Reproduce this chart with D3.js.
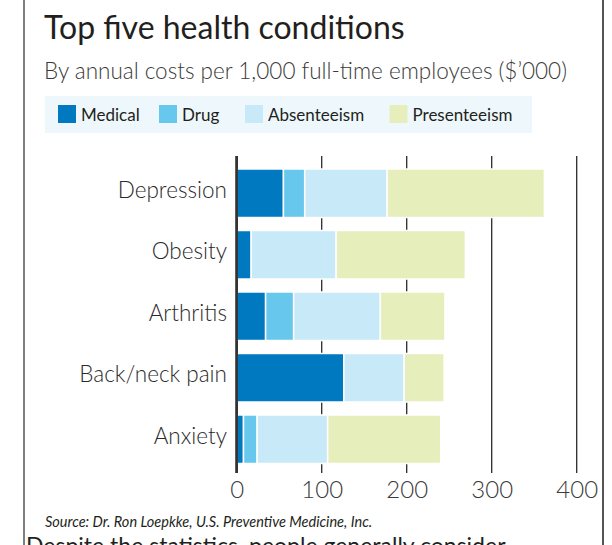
<!DOCTYPE html>
<html>
<head>
<meta charset="utf-8">
<script src="https://cdn.jsdelivr.net/npm/d3@7"></script>
<style>
  html, body { margin: 0; padding: 0; background: #fff; }
  svg { display: block; font-family: Lato, "Open Sans", sans-serif; }
</style>
</head>
<body>
<svg id="chart" width="612" height="545"></svg>
<script>
// ---- data ----
const categories = ["Depression", "Obesity", "Arthritis", "Back/neck pain", "Anxiety"];
const seriesNames = ["Medical", "Drug", "Absenteeism", "Presenteeism"];
const medical      = [55, 17, 34, 126, 8];
const drug         = [25, 0, 33, 0, 16];
const absenteeism  = [97, 100, 102, 71, 83];
const presenteeism = [185, 152, 76, 47, 133];
const tickValues = [0, 100, 200, 300, 400];
const colors = ["#0079c1", "#67c7ec", "#c8e9f8", "#e6efbc"];

const titleText = "Top five health conditions";
const subtitleText = "By annual costs per 1,000 full-time employees ($\u2019000)";
const sourceText = "Source: Dr. Ron Loepkke, U.S. Preventive Medicine, Inc.";
const bodyText = "Despite the statistics, people generally consider";

// ---- build ----
const svg = d3.select("#chart");
const rows = categories.map((c, i) => ({
  cat: c, Medical: medical[i], Drug: drug[i], Absenteeism: absenteeism[i], Presenteeism: presenteeism[i]
}));
const stacked = d3.stack().keys(seriesNames)(rows);

const x = d3.scaleLinear().domain([0, 400]).range([236.7, 576.7]);
const y = d3.scaleBand().domain(categories).range([169, 463.5]).paddingInner(0.211).paddingOuter(0);
const color = d3.scaleOrdinal().domain(seriesNames).range(colors);

// frame
svg.append("line").attr("x1", 24).attr("x2", 24).attr("y1", 0).attr("y2", 545)
  .attr("stroke", "#555").attr("stroke-width", 1.5);
svg.append("line").attr("x1", 603).attr("x2", 603).attr("y1", 0).attr("y2", 545)
  .attr("stroke", "#555").attr("stroke-width", 2);

// title & subtitle
svg.append("text").attr("x", 44).attr("y", 39).text(titleText)
  .attr("font-size", 32).attr("fill", "#231f20").attr("font-weight", 400);
svg.append("text").attr("x", 44).attr("y", 79).text(subtitleText)
  .attr("font-size", 22.5).attr("fill", "#3a3a3a").attr("font-weight", 300);

// legend
const lg = svg.append("g");
lg.append("rect").attr("x", 45).attr("y", 96).attr("width", 487).attr("height", 37).attr("fill", "#eef8fc");
const legendX = [58, 159, 245, 389.5];
seriesNames.forEach((s, i) => {
  lg.append("rect").attr("x", legendX[i]).attr("y", 105).attr("width", 18).attr("height", 18).attr("fill", color(s));
  lg.append("text").attr("x", legendX[i] + 23).attr("y", 120.5).text(s)
    .attr("font-size", 17).attr("fill", "#231f20");
});

// grid lines
const grid = svg.append("g");
tickValues.forEach(t => {
  grid.append("line").attr("x1", x(t)).attr("x2", x(t)).attr("y1", 156).attr("y2", 473)
    .attr("stroke", t === 0 ? "#333" : "#2a2a2a").attr("stroke-width", t === 0 ? 2.5 : 1.3);
});

// bars
svg.append("g").selectAll("g").data(stacked).join("g")
  .attr("fill", d => color(d.key))
  .selectAll("rect").data(d => d.filter(v => v[1] - v[0] > 0)).join("rect")
  .attr("x", d => x(d[0]))
  .attr("y", d => y(d.data.cat))
  .attr("width", d => x(d[1]) - x(d[0]))
  .attr("height", y.bandwidth())
  .attr("stroke", "#fff").attr("stroke-width", 1.5);

// redraw axis line at 0 on top
svg.append("line").attr("x1", x(0)).attr("x2", x(0)).attr("y1", 156).attr("y2", 473)
  .attr("stroke", "#333").attr("stroke-width", 2.5);

// category labels
svg.append("g").selectAll("text").data(categories).join("text")
  .attr("x", 227).attr("y", d => y(d) + y.bandwidth() / 2 + 4.5)
  .attr("text-anchor", "end").attr("font-size", 22.5).attr("font-weight", 300).attr("fill", "#2a2a2a")
  .text(d => d);

// x axis labels
const xAxis = d3.axisBottom(x).tickValues(tickValues).tickSize(0).tickPadding(0).tickFormat(d3.format("d"));
const ax = svg.append("g").attr("transform", "translate(0,498)").call(xAxis);
ax.select(".domain").remove();
ax.selectAll("text").attr("dy", 0).attr("y", 0)
  .attr("font-family", "Lato, sans-serif").attr("font-size", 24).attr("font-weight", 300).attr("fill", "#3a3a3a");

// source
svg.append("text").attr("x", 45).attr("y", 527).text(sourceText)
  .attr("font-size", 14.5).attr("font-style", "italic").attr("fill", "#231f20");

// body text (cut off at the bottom edge, as in the original page)
svg.append("text").attr("x", 26).attr("y", 554).text(bodyText)
  .attr("font-size", 23).attr("fill", "#231f20");
</script>
</body>
</html>
